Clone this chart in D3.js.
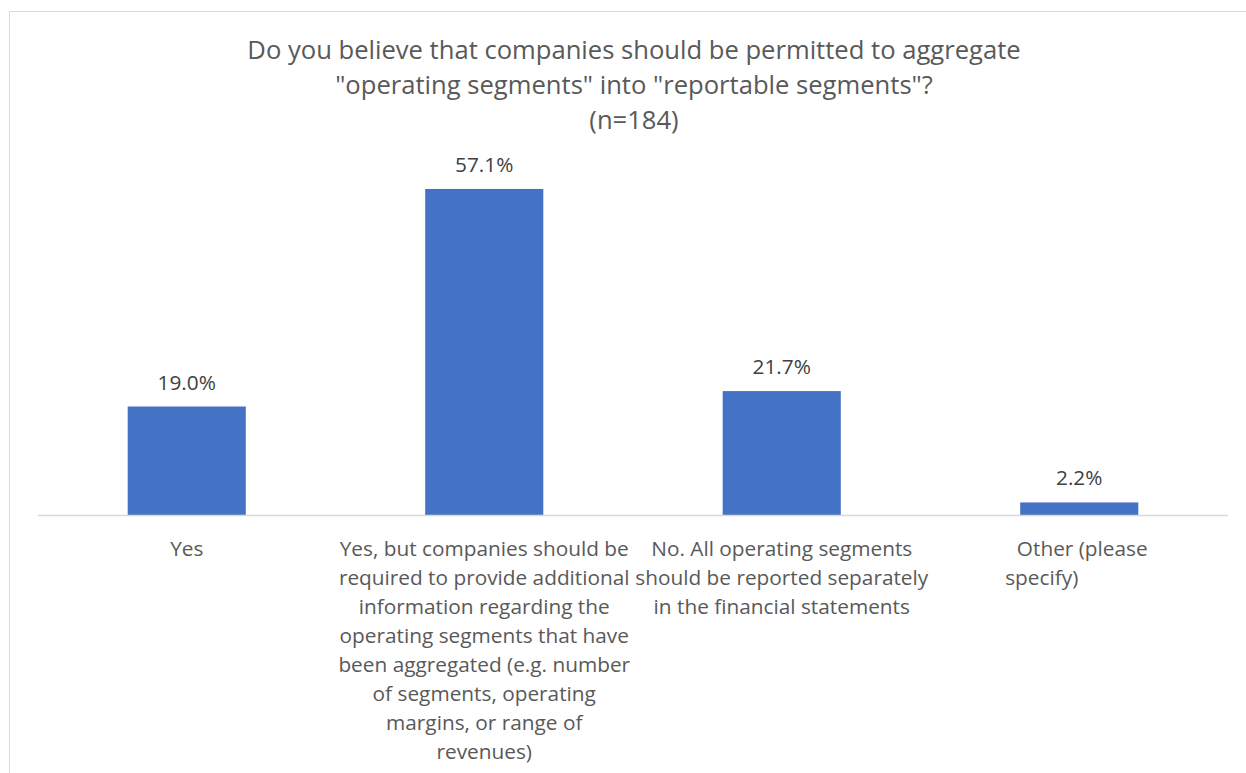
<!DOCTYPE html>
<html>
<head>
<meta charset="utf-8">
<script src="https://cdn.jsdelivr.net/npm/d3@7"></script>
<style>
  html, body { margin: 0; padding: 0; background: #fff; }
  svg { display: block; font-family: "Open Sans", sans-serif; }
</style>
</head>
<body>
<svg id="chart" width="1246" height="773"></svg>
<script>
const titleLines = [
  "Do you believe that companies should be permitted to aggregate",
  "\"operating segments\" into \"reportable segments\"?",
  "(n=184)"
];
const categories = ["Yes", "Yes, but", "No", "Other"];
const categoryLabels = [
  ["Yes"],
  ["Yes, but companies should be", "required to provide additional", "information regarding the", "operating segments that have", "been aggregated (e.g. number", "of segments, operating", "margins, or range of", "revenues)"],
  ["No. All operating segments", "should be reported separately", "in the financial statements"],
  ["Other (please", "specify)" + "\u00a0".repeat(15)]
];
const values = [19.0, 57.1, 21.7, 2.2];
const valueLabels = ["19.0%", "57.1%", "21.7%", "2.2%"];

const svg = d3.select("#chart");

// chart frame
svg.append("rect")
  .attr("x", 9.5).attr("y", 11.5)
  .attr("width", 1260).attr("height", 800)
  .attr("fill", "none").attr("stroke", "#d9d9d9").attr("stroke-width", 1);

const x = d3.scaleBand().domain(categories).range([38, 1228]).paddingInner(0.603).paddingOuter(0.3015);
const y = d3.scaleLinear().domain([0, 60]).range([515, 172.4]);

// title
svg.append("g").selectAll("text").data(titleLines).join("text")
  .attr("x", 634).attr("y", (d, i) => 59 + i * 35)
  .attr("text-anchor", "middle")
  .attr("fill", "#595959").attr("font-size", 25.6)
  .text(d => d);

// bars
svg.append("g").selectAll("rect").data(values).join("rect")
  .attr("x", (d, i) => x(categories[i]))
  .attr("y", d => y(d))
  .attr("width", x.bandwidth())
  .attr("height", d => y(0) - y(d))
  .attr("fill", "#4472c4");

// axis line
const axis = d3.axisBottom(x).tickSize(0).tickFormat("");
const ax = svg.append("g").attr("transform", `translate(0,${y(0)})`).call(axis);
ax.select(".domain").attr("stroke", "#d9d9d9").attr("stroke-width", 1.3)
  .attr("d", `M38,0.5H1228`);

// value labels
svg.append("g").selectAll("text").data(values).join("text")
  .attr("x", (d, i) => x(categories[i]) + x.bandwidth() / 2)
  .attr("y", d => y(d) - 17)
  .attr("text-anchor", "middle")
  .attr("fill", "#404040").attr("font-size", 20.8)
  .text((d, i) => valueLabels[i]);

// category labels
const cl = svg.append("g");
categoryLabels.forEach((lines, i) => {
  cl.append("g").selectAll("text").data(lines).join("text")
    .attr("x", x(categories[i]) + x.bandwidth() / 2 + (i === 3 ? 3 : 0))
    .attr("y", (d, j) => 555.5 + j * 29)
    .attr("text-anchor", "middle")
    .attr("fill", "#595959").attr("font-size", 20.8)
    .text(d => d);
});
</script>
</body>
</html>
